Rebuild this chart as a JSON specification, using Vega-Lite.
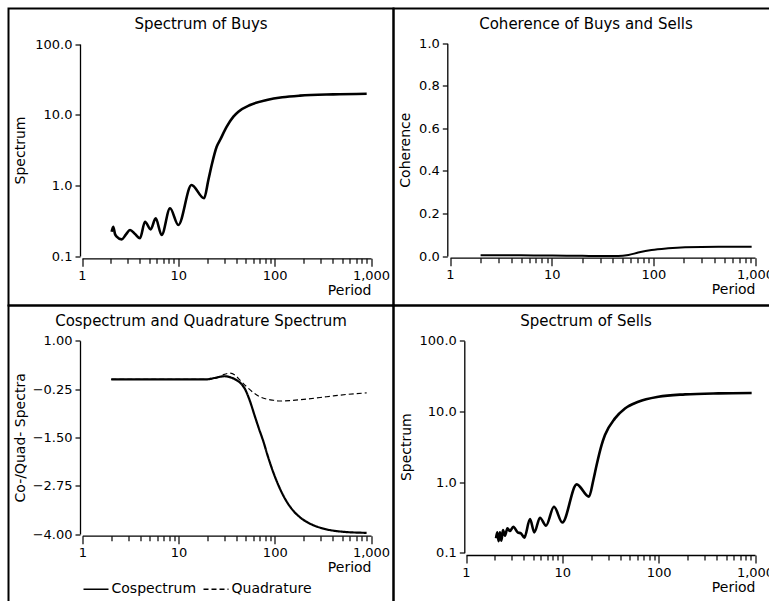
{
  "$schema": "https://vega.github.io/schema/vega-lite/v6.json",
  "background": "white",
  "padding": {"left": 7.5, "top": 7.5, "right": 0, "bottom": 0},
  "columns": 2,
  "spacing": 0,
  "bounds": "flush",
  "resolve": {"scale": {"x": "independent", "y": "independent", "strokeDash": "independent"}, "axis": {"x": "independent", "y": "independent"}, "legend": {"strokeDash": "independent"}},
  "datasets": {
    "buys": [
      {"p": 2.03, "v": 0.221}, {"p": 2.11, "v": 0.26}, {"p": 2.2, "v": 0.205}, {"p": 2.29, "v": 0.188},
      {"p": 2.58, "v": 0.172}, {"p": 2.85, "v": 0.2}, {"p": 3.15, "v": 0.233}, {"p": 3.55, "v": 0.205},
      {"p": 4.0, "v": 0.178}, {"p": 4.51, "v": 0.306}, {"p": 5.16, "v": 0.238}, {"p": 5.82, "v": 0.341},
      {"p": 6.71, "v": 0.198}, {"p": 8.2, "v": 0.473}, {"p": 10.0, "v": 0.275}, {"p": 13.7, "v": 1.01},
      {"p": 18.5, "v": 0.655}, {"p": 20.5, "v": 1.19}, {"p": 22.2, "v": 1.94}, {"p": 25.0, "v": 3.52},
      {"p": 27.1, "v": 4.38}, {"p": 31.8, "v": 6.77},
      {"p": 37.3, "v": 9.37}, {"p": 42.0, "v": 11.0}, {"p": 55.6, "v": 13.7}, {"p": 82.8, "v": 16.1},
      {"p": 120, "v": 17.6}, {"p": 183, "v": 18.6}, {"p": 406, "v": 19.4}, {"p": 902, "v": 19.8}
    ],
    "sells": [
      {"p": 2.05, "v": 0.16}, {"p": 2.11, "v": 0.194}, {"p": 2.18, "v": 0.146}, {"p": 2.25, "v": 0.194},
      {"p": 2.33, "v": 0.148}, {"p": 2.42, "v": 0.209}, {"p": 2.54, "v": 0.174}, {"p": 2.69, "v": 0.221},
      {"p": 2.86, "v": 0.203}, {"p": 3.1, "v": 0.233}, {"p": 3.44, "v": 0.194}, {"p": 3.72, "v": 0.188},
      {"p": 4.03, "v": 0.163}, {"p": 4.62, "v": 0.299}, {"p": 5.12, "v": 0.194}, {"p": 5.86, "v": 0.313},
      {"p": 6.77, "v": 0.241}, {"p": 8.19, "v": 0.448}, {"p": 10.0, "v": 0.268}, {"p": 14.1, "v": 0.927},
      {"p": 18.9, "v": 0.619}, {"p": 21.0, "v": 1.07}, {"p": 22.7, "v": 1.74}, {"p": 25.5, "v": 3.3},
      {"p": 27.7, "v": 4.62}, {"p": 35.2, "v": 7.96},
      {"p": 44.7, "v": 11.0}, {"p": 61.5, "v": 13.7}, {"p": 99.3, "v": 16.1}, {"p": 188, "v": 17.4},
      {"p": 416, "v": 18.0}, {"p": 923, "v": 18.2}
    ],
    "coh": [
      {"p": 2.0, "v": 0.004}, {"p": 3, "v": 0.003}, {"p": 5, "v": 0.004}, {"p": 10, "v": 0.002},
      {"p": 20, "v": 0.001}, {"p": 30, "v": 0.0}, {"p": 45, "v": 0.0}, {"p": 57, "v": 0.005},
      {"p": 71, "v": 0.016}, {"p": 96, "v": 0.028}, {"p": 140, "v": 0.036}, {"p": 205, "v": 0.041},
      {"p": 436, "v": 0.044}, {"p": 927, "v": 0.044}
    ],
    "cq": [
      {"s": "Cospectrum", "p": 2, "v": 0}, {"s": "Cospectrum", "p": 10, "v": 0}, {"s": "Cospectrum", "p": 19.6, "v": 0},
      {"s": "Cospectrum", "p": 24, "v": 0.04}, {"s": "Cospectrum", "p": 30, "v": 0.08}, {"s": "Cospectrum", "p": 35, "v": 0.05},
      {"s": "Cospectrum", "p": 40, "v": -0.02}, {"s": "Cospectrum", "p": 45, "v": -0.12}, {"s": "Cospectrum", "p": 49, "v": -0.25},
      {"s": "Cospectrum", "p": 55, "v": -0.55}, {"s": "Cospectrum", "p": 62, "v": -0.95}, {"s": "Cospectrum", "p": 69, "v": -1.3},
      {"s": "Cospectrum", "p": 76, "v": -1.6}, {"s": "Cospectrum", "p": 85, "v": -2.0}, {"s": "Cospectrum", "p": 97, "v": -2.42},
      {"s": "Cospectrum", "p": 111, "v": -2.78}, {"s": "Cospectrum", "p": 130, "v": -3.12}, {"s": "Cospectrum", "p": 156, "v": -3.4},
      {"s": "Cospectrum", "p": 190, "v": -3.6}, {"s": "Cospectrum", "p": 240, "v": -3.75}, {"s": "Cospectrum", "p": 320, "v": -3.86},
      {"s": "Cospectrum", "p": 500, "v": -3.94}, {"s": "Cospectrum", "p": 900, "v": -3.97},
      {"s": "Quadrature", "p": 2, "v": 0}, {"s": "Quadrature", "p": 19.6, "v": 0}, {"s": "Quadrature", "p": 24.9, "v": 0.04},
      {"s": "Quadrature", "p": 29.2, "v": 0.12}, {"s": "Quadrature", "p": 34.2, "v": 0.16}, {"s": "Quadrature", "p": 38.6, "v": 0.11},
      {"s": "Quadrature", "p": 43.5, "v": -0.02}, {"s": "Quadrature", "p": 51, "v": -0.19}, {"s": "Quadrature", "p": 59.8, "v": -0.34},
      {"s": "Quadrature", "p": 70.2, "v": -0.45}, {"s": "Quadrature", "p": 82.3, "v": -0.51}, {"s": "Quadrature", "p": 96.6, "v": -0.54},
      {"s": "Quadrature", "p": 113, "v": -0.56}, {"s": "Quadrature", "p": 143, "v": -0.55}, {"s": "Quadrature", "p": 214, "v": -0.51},
      {"s": "Quadrature", "p": 346, "v": -0.45}, {"s": "Quadrature", "p": 558, "v": -0.39}, {"s": "Quadrature", "p": 901, "v": -0.35}
    ]
  },
  "concat": [
    {
      "width": 385, "height": 297,
      "title": {"text": "Spectrum of Buys"},
      "data": {"name": "buys"},
      "mark": {"type": "line", "color": "black", "strokeWidth": 2.6, "interpolate": "monotone"},
      "encoding": {
        "x": {"field": "p", "type": "quantitative",
          "scale": {"type": "log", "domain": [1, 1000], "range": [73.5, 362.5], "nice": false},
          "axis": {"title": "Period", "offset": -47.2, "values": [1,2,3,4,5,6,7,8,9,10,20,30,40,50,60,70,80,90,100,200,300,400,500,600,700,800,900,1000],
            "format": ",", "labelExpr": "(datum.value==1||datum.value==10||datum.value==100||datum.value==1000) ? datum.label : ''",
            "tickSize": {"condition": {"test": "datum.value==1||datum.value==10||datum.value==100||datum.value==1000", "value": 8}, "value": 5},
            "labelPadding": 3, "titleAnchor": "end", "titleAlign": "right", "titlePadding": 1}},
        "y": {"field": "v", "type": "quantitative",
          "scale": {"type": "log", "domain": [0.1, 100], "range": [247.5, 35.5], "nice": false},
          "axis": {"title": "Spectrum", "offset": -71.5, "values": [0.1, 1, 10, 100], "format": ".1f", "tickSize": 5, "labelPadding": 3, "titlePadding": 7}}
      }
    },
    {
      "width": 385, "height": 297,
      "title": {"text": "Coherence of Buys and Sells"},
      "data": {"name": "coh"},
      "mark": {"type": "line", "color": "black", "strokeWidth": 2, "interpolate": "monotone"},
      "encoding": {
        "x": {"field": "p", "type": "quantitative",
          "scale": {"type": "log", "domain": [1, 1000], "range": [56.5, 361.5], "nice": false},
          "axis": {"title": "Period", "offset": -47.8, "values": [1,2,3,4,5,6,7,8,9,10,20,30,40,50,60,70,80,90,100,200,300,400,500,600,700,800,900,1000],
            "format": ",", "labelExpr": "(datum.value==1||datum.value==10||datum.value==100||datum.value==1000) ? datum.label : ''",
            "tickSize": {"condition": {"test": "datum.value==1||datum.value==10||datum.value==100||datum.value==1000", "value": 8}, "value": 5},
            "labelPadding": 3, "titleAnchor": "end", "titleAlign": "right", "titlePadding": 1}},
        "y": {"field": "v", "type": "quantitative",
          "scale": {"type": "linear", "domain": [0, 1], "range": [247.5, 34.8], "nice": false, "zero": false},
          "axis": {"title": "Coherence", "offset": -53.8, "values": [0, 0.2, 0.4, 0.6, 0.8, 1.0], "format": ".1f", "tickSize": 5, "labelPadding": 3, "titlePadding": 6}}
      }
    },
    {
      "width": 385, "height": 297,
      "title": {"text": "Cospectrum and Quadrature Spectrum"},
      "resolve": {"legend": {"strokeDash": "shared"}},
      "encoding": {
        "x": {"field": "p", "type": "quantitative",
          "scale": {"type": "log", "domain": [1, 1000], "range": [73.8, 362.5], "nice": false},
          "axis": {"title": "Period", "offset": -66.8, "values": [1,2,3,4,5,6,7,8,9,10,20,30,40,50,60,70,80,90,100,200,300,400,500,600,700,800,900,1000],
            "format": ",", "labelExpr": "(datum.value==1||datum.value==10||datum.value==100||datum.value==1000) ? datum.label : ''",
            "tickSize": {"condition": {"test": "datum.value==1||datum.value==10||datum.value==100||datum.value==1000", "value": 8}, "value": 5},
            "labelPadding": 3, "titleAnchor": "end", "titleAlign": "right", "titlePadding": 1}},
        "y": {"field": "v", "type": "quantitative",
          "scale": {"type": "linear", "domain": [-4, 1], "range": [228.5, 35.2], "nice": false, "zero": false},
          "axis": {"title": "Co-/Quad- Spectra", "offset": -71.5, "values": [-4, -2.75, -1.5, -0.25, 1], "format": ".2f", "tickSize": 5, "labelPadding": 3, "titlePadding": 5}}
      },
      "layer": [
        {
          "data": {"values": [{}]},
          "mark": {"type": "rule", "color": "black", "strokeWidth": 1},
          "encoding": {"y": {"datum": 0}, "x": {"datum": 2}, "x2": {"datum": 1030}}
        },
        {
          "data": {"name": "cq"},
          "transform": [{"filter": "datum.s == 'Quadrature'"}],
          "mark": {"type": "line", "color": "black", "strokeWidth": 1.2, "interpolate": "monotone"},
          "encoding": {
            "strokeDash": {"field": "s", "type": "nominal",
              "scale": {"domain": ["Cospectrum", "Quadrature"], "range": [[1, 0], [5, 3]]},
              "legend": {"title": null, "orient": "none", "legendX": 74, "legendY": 270, "direction": "horizontal",
                "symbolType": "stroke", "symbolStrokeColor": "black", "symbolStrokeWidth": 1.3, "symbolSize": 625,
                "labelFontSize": 14, "labelColor": "black", "labelOffset": 2, "columnPadding": 4}}
          }
        },
        {
          "data": {"name": "cq"},
          "transform": [{"filter": "datum.s == 'Cospectrum'"}],
          "mark": {"type": "line", "color": "black", "strokeWidth": 2.2, "interpolate": "monotone"},
          "encoding": {
            "strokeDash": {"field": "s", "type": "nominal"}
          }
        }
      ]
    },
    {
      "width": 385, "height": 297,
      "title": {"text": "Spectrum of Sells"},
      "data": {"name": "sells"},
      "mark": {"type": "line", "color": "black", "strokeWidth": 2.6, "interpolate": "monotone"},
      "encoding": {
        "x": {"field": "p", "type": "quantitative",
          "scale": {"type": "log", "domain": [1, 1000], "range": [72.5, 361.5], "nice": false},
          "axis": {"title": "Period", "offset": -47.5, "values": [1,2,3,4,5,6,7,8,9,10,20,30,40,50,60,70,80,90,100,200,300,400,500,600,700,800,900,1000],
            "format": ",", "labelExpr": "(datum.value==1||datum.value==10||datum.value==100||datum.value==1000) ? datum.label : ''",
            "tickSize": {"condition": {"test": "datum.value==1||datum.value==10||datum.value==100||datum.value==1000", "value": 8}, "value": 5},
            "labelPadding": 3, "titleAnchor": "end", "titleAlign": "right", "titlePadding": 1}},
        "y": {"field": "v", "type": "quantitative",
          "scale": {"type": "log", "domain": [0.1, 100], "range": [247.2, 35.2], "nice": false},
          "axis": {"title": "Spectrum", "offset": -70.8, "values": [0.1, 1, 10, 100], "format": ".1f", "tickSize": 5, "labelPadding": 3, "titlePadding": 6}}
      }
    }
  ],
  "config": {
    "font": "DejaVu Sans",
    "view": {"stroke": "black", "strokeWidth": 2},
    "title": {"fontSize": 15, "fontWeight": "normal", "color": "black", "anchor": "middle", "frame": "group", "offset": -23.5, "baseline": "alphabetic"},
    "axis": {"domainColor": "black", "domainWidth": 1.3, "tickColor": "black", "tickWidth": 1.2, "labelColor": "black", "labelFontSize": 13,
      "titleColor": "black", "titleFontSize": 14, "titleFontWeight": "normal", "grid": false, "labelFlush": false, "labelOverlap": false},
    "legend": {"labelFont": "DejaVu Sans"}
  }
}
